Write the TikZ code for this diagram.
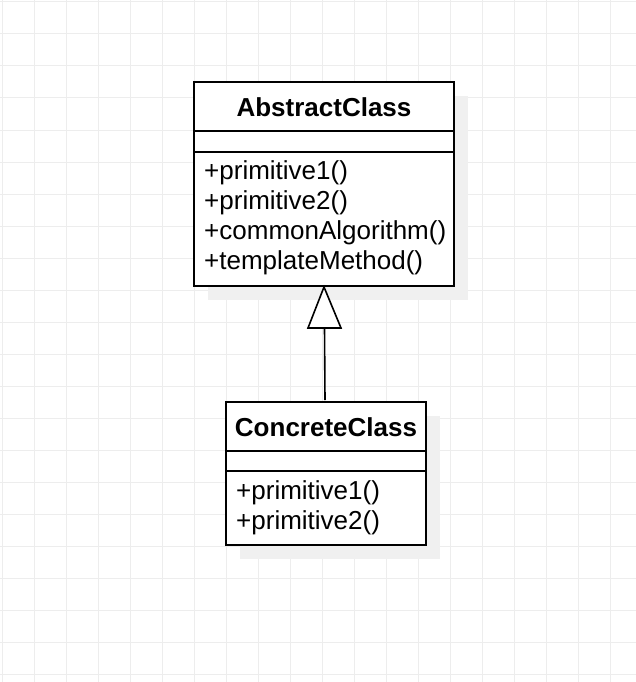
\documentclass[tikz,border=0pt]{standalone}
\usepackage{fontspec}
\setmainfont{Liberation Sans}
\begin{document}
\begin{tikzpicture}[x=1pt,y=-1pt,
 box/.style={draw=black,line width=1.6pt},
 shadow/.style={fill=black!6},
 txt/.style={anchor=west,inner sep=0pt,font=\fontsize{26}{30}\selectfont},
 ttl/.style={inner sep=0pt,font=\fontsize{26}{30}\selectfont\bfseries}]
\useasboundingbox (0,0) rectangle (636,682);
\foreach \i in {0,...,19} {\draw[black!7,line width=1pt] (2+32*\i,0) -- (2+32*\i,682);}
\foreach \i in {0,...,21} {\draw[black!7,line width=1pt] (0,2+32*\i) -- (636,2+32*\i);}
% shadows
\fill[shadow] (208,96) rectangle (468,300);
\fill[shadow] (240,416) rectangle (440,559);
% abstract
\fill[white] (194,82) rectangle (454,286);
\draw[box] (194,82) rectangle (454,286);
\draw[box] (194,131) -- (454,131);
\draw[box] (194,152) -- (454,152);
\node[ttl] (at) at (324,107) {AbstractClass};
\node[txt] (a1) at (204,173) {+primitive1()};
\node[txt] (a2) at (204,203) {+primitive2()};
\node[txt] (a3) at (204,233) {+commonAlgorithm()};
\node[txt] (a4) at (204,263) {+templateMethod()};
\coordinate (atop) at (324,287);
% concrete
\fill[white] (226,402) rectangle (426,545);
\draw[box] (226,402) rectangle (426,545);
\draw[box] (226,451) -- (426,451);
\draw[box] (226,471) -- (426,471);
\node[ttl] (ct) at (326,427) {ConcreteClass};
\node[txt] (c1) at (236,493) {+primitive1()};
\node[txt] (c2) at (236,523) {+primitive2()};
\coordinate (cbot) at (325,400);
\coordinate (tb) at (324.5,328);
\draw[line width=1.6pt] (cbot) -- (tb);
\draw[line width=1.6pt,fill=white,line join=miter] (atop) -- (341,328) -- (308,328) -- cycle;
\end{tikzpicture}
\end{document}
